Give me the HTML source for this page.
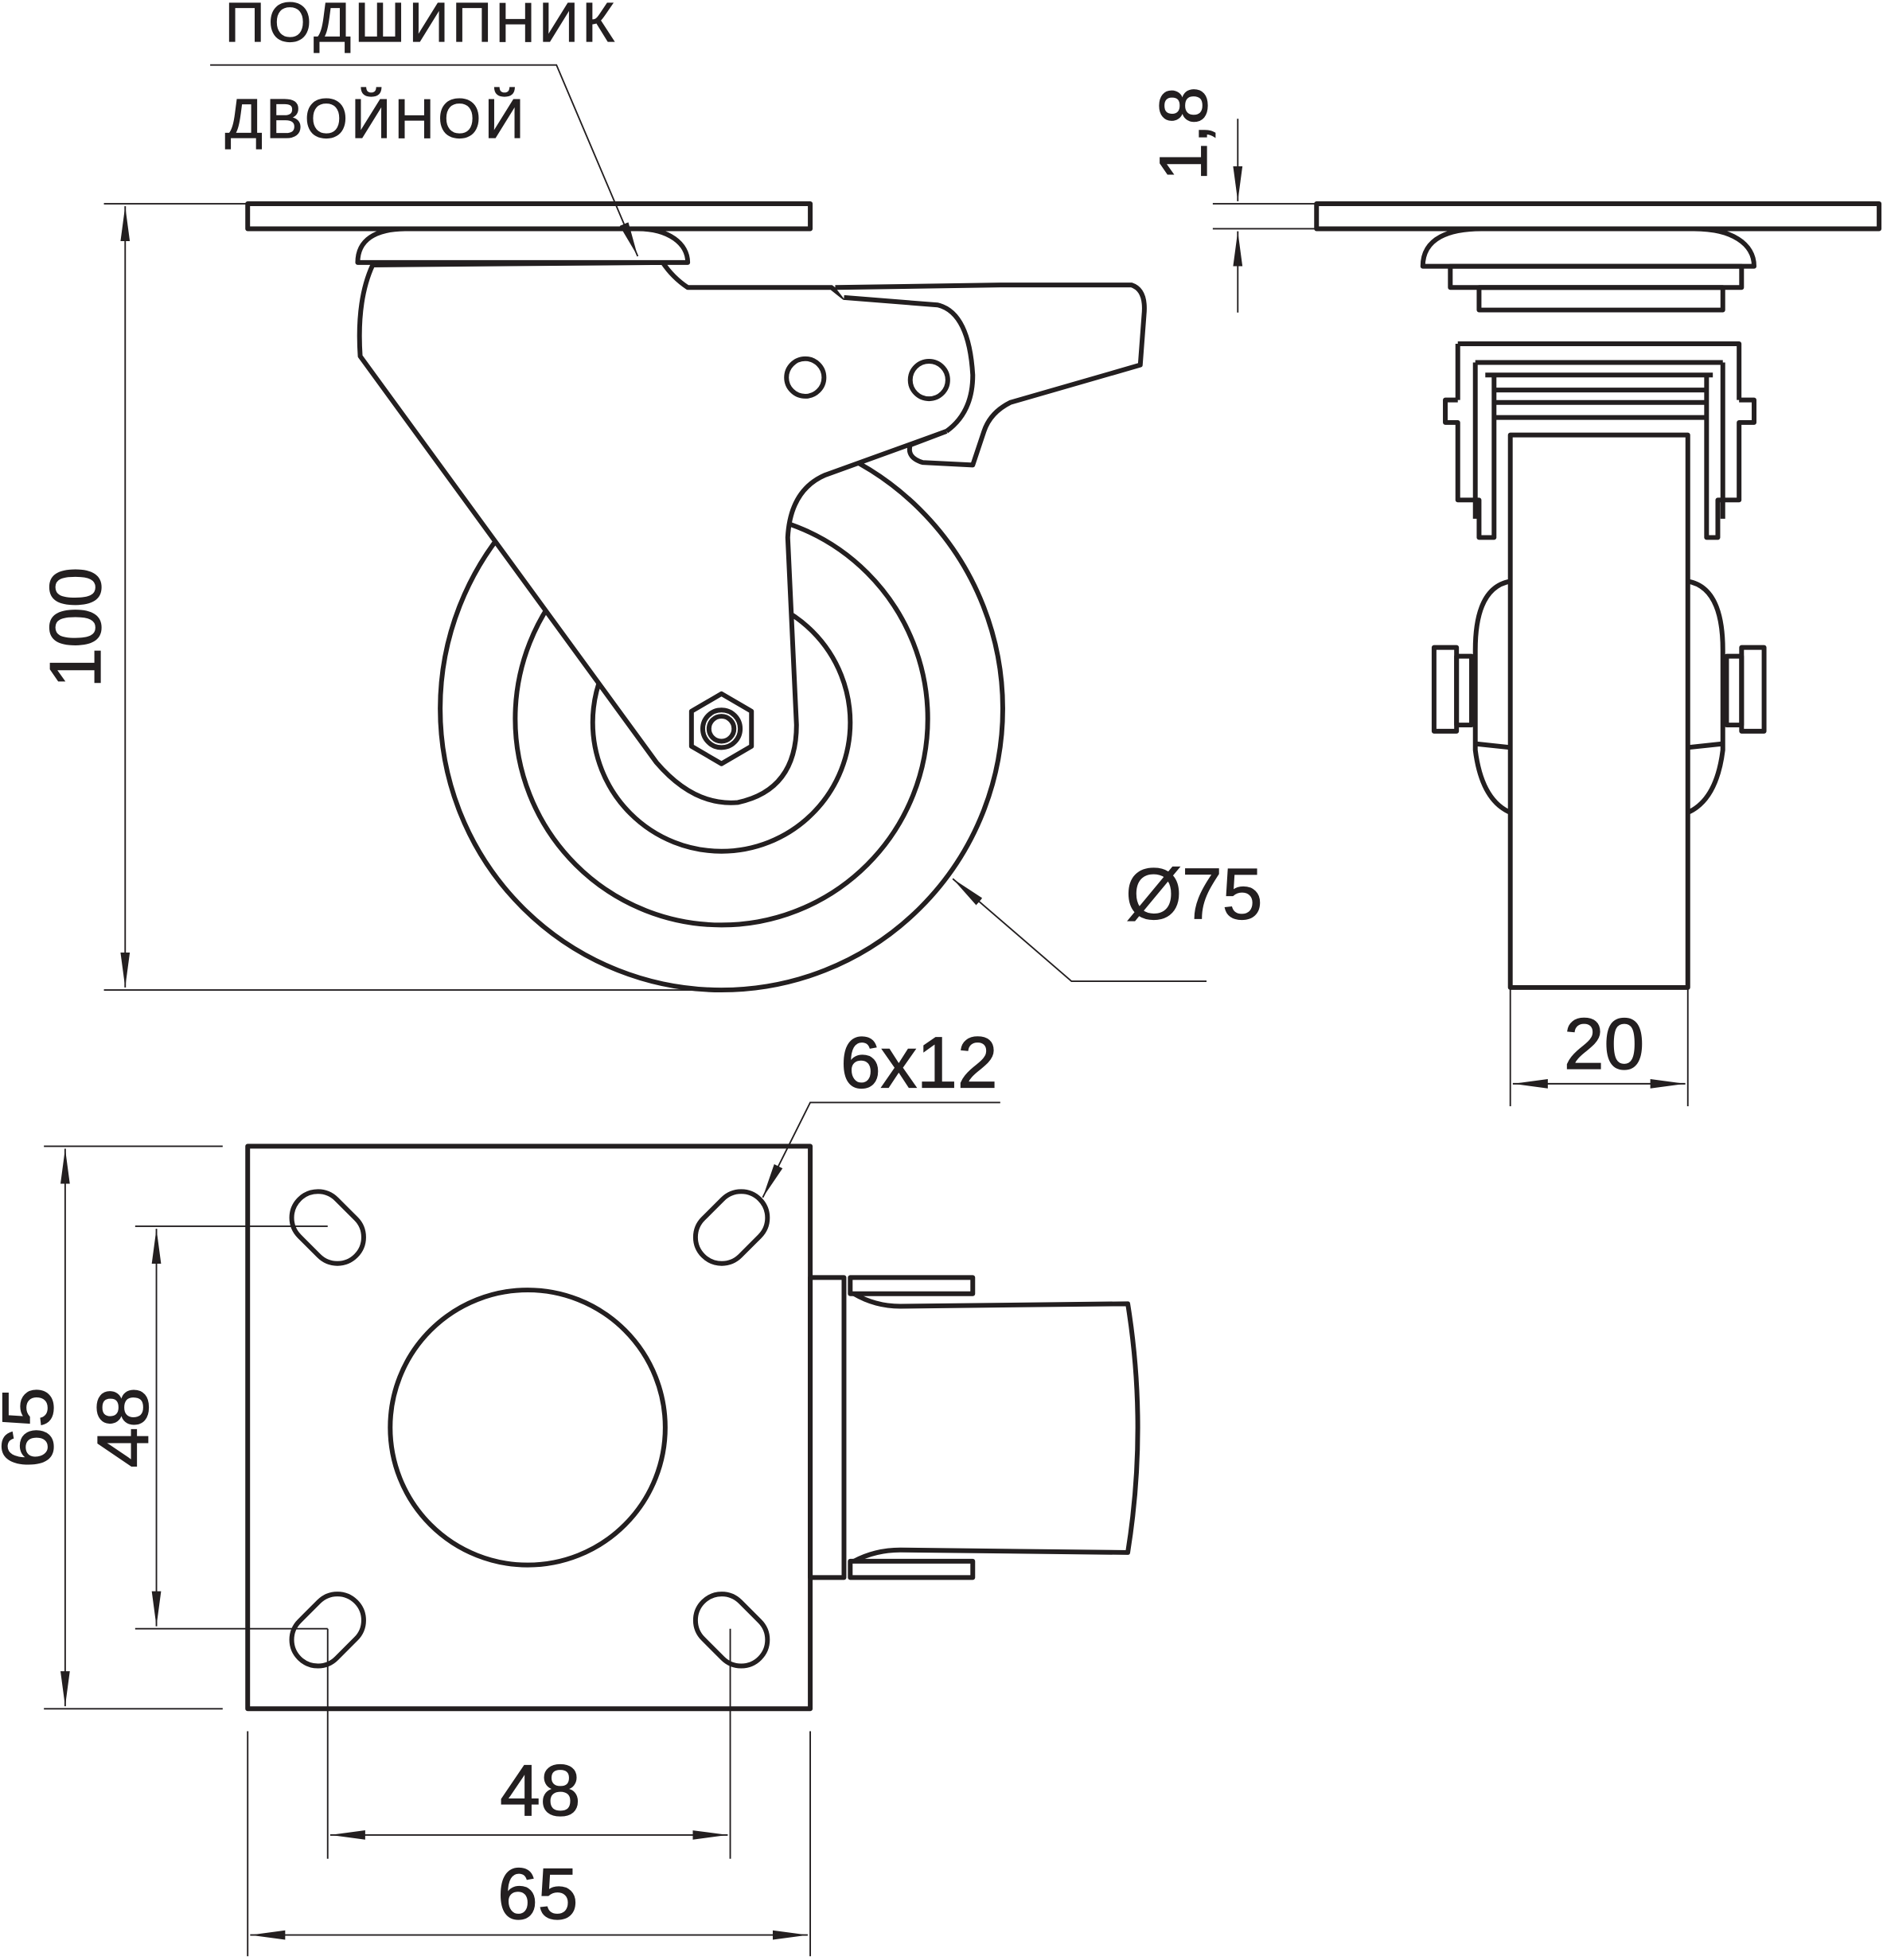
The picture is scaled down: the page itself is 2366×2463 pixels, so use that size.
<!DOCTYPE html>
<html><head><meta charset="utf-8"><style>
html,body{margin:0;padding:0;background:#fff;}
svg{display:block}
text{font-family:"Liberation Sans","DejaVu Sans",sans-serif;fill:#231f20;stroke:#231f20;stroke-width:0.8}
</style></head><body>
<svg width="2366" height="2463" viewBox="0 0 1506 1568" xmlns="http://www.w3.org/2000/svg">
<defs>
<marker id="b" viewBox="0 0 30 10" refX="30" refY="5" markerWidth="28" markerHeight="10" markerUnits="userSpaceOnUse" orient="auto-start-reverse">
<path d="M0,1 L30,5 L0,9 Z" fill="#231f20"/></marker>
</defs>
<g fill="none" stroke="#231f20" stroke-width="3.8" stroke-linejoin="round">
<!-- SIDE VIEW -->
<rect x="198" y="163" width="450" height="20" fill="#fff"/>
<circle cx="577" cy="567" r="225"/>
<circle cx="577" cy="575" r="165"/>
<circle cx="577" cy="578" r="103"/>
<path d="M298,212 Q285,240 288,285 L525,610 Q555,645 590,642 Q637,632 637,580 L630,430 Q632,392 660,380 L757,345 Q778,330 778,300 Q775,250 750,244 L675,238 L665,230 L550,230 Q538,222 530,210 Z" fill="#fff"/>
<path d="M286,210 C286,192 300,183 325,183 L510,183 C535,183 550,195 550,210 Z" fill="#fff"/>
<path d="M668,230 L800,228 L905,228 Q917,232 915,252 L912,292 L808,322 Q792,330 787,345 L778,372 L738,370 Q725,366 728,356 L757,345" fill="#fff"/>
<path d="M675,238 L750,244 Q775,250 778,300 Q778,330 757,345"/>
<circle cx="644" cy="302" r="15"/>
<circle cx="743" cy="304" r="15"/>
<polygon points="577,555 601,569 601,597 577,611 553,597 553,569" fill="#fff"/>
<circle cx="577" cy="583" r="15"/>
<circle cx="577" cy="583" r="10"/>
<!-- RIGHT VIEW -->
<rect x="1053" y="163" width="450" height="20" fill="#fff"/>
<path d="M1138,213 C1138,190 1160,183 1185,183 L1355,183 C1385,183 1403,195 1403,213 Z"/>
<rect x="1160" y="213" width="233" height="17"/>
<rect x="1183" y="230" width="195" height="18"/>
<path d="M1166,275 L1391,275 L1391,320 M1166,275 L1166,320"/>
<path d="M1180,290 L1378,290 M1188,300 L1370,300 M1195,312 L1365,312 M1195,322 L1365,322 M1195,334 L1365,334"/>
<path d="M1166,320 L1156,320 L1156,338 L1166,338 L1166,400 L1183,400 L1183,430 L1195,430 L1195,300"/>
<path d="M1391,320 L1403,320 L1403,338 L1391,338 L1391,400 L1374,400 L1374,430 L1365,430 L1365,300"/>
<path d="M1180,290 L1180,415 M1378,290 L1378,415"/>
<path d="M1208,465 Q1180,470 1180,520 L1180,600 Q1185,640 1208,650"/>
<path d="M1350,465 Q1378,470 1378,520 L1378,600 Q1373,640 1350,650"/>
<rect x="1147" y="518" width="18" height="67"/>
<rect x="1165" y="525" width="12" height="55"/>
<rect x="1393" y="518" width="18" height="67"/>
<rect x="1381" y="525" width="12" height="55"/>
<path d="M1180,595 L1208,598 M1378,595 L1350,598"/>
<rect x="1208" y="348" width="142" height="442" fill="#fff"/>
<!-- BOTTOM VIEW -->
<rect x="198" y="917" width="450" height="450"/>
<circle cx="422" cy="1142" r="110"/>
<rect x="230" y="961" width="64" height="42" rx="21" transform="rotate(45 262 982)"/>
<rect x="553" y="961" width="64" height="42" rx="21" transform="rotate(-45 585 982)"/>
<rect x="230" y="1283" width="64" height="42" rx="21" transform="rotate(-45 262 1304)"/>
<rect x="553" y="1283" width="64" height="42" rx="21" transform="rotate(45 585 1304)"/>
<rect x="648" y="1022" width="27" height="240"/>
<rect x="680" y="1022" width="98" height="13"/>
<rect x="680" y="1249" width="98" height="13"/>
<path d="M683,1035 Q700,1045 720,1045 L902,1043 Q918,1142 902,1242 L720,1240 Q700,1240 683,1249"/>
</g>
<g fill="none" stroke="#231f20" stroke-width="1.2">
<path d="M83,163 L198,163 M83,792 L577,792"/>
<path d="M100,165 L100,790" marker-start="url(#b)" marker-end="url(#b)"/>
<path d="M168,52 L445,52 L510,205" marker-end="url(#b)"/>
<path d="M965,785 L857,785 L762,703" marker-end="url(#b)"/>
<path d="M970,163 L1053,163 M970,183 L1053,183"/>
<path d="M990,95 L990,161" marker-end="url(#b)"/>
<path d="M990,250 L990,185" marker-end="url(#b)"/>
<path d="M1208,790 L1208,885 M1350,790 L1350,885"/>
<path d="M1210,867 L1348,867" marker-start="url(#b)" marker-end="url(#b)"/>
<path d="M35,917 L178,917 M35,1367 L178,1367"/>
<path d="M52,919 L52,1365" marker-start="url(#b)" marker-end="url(#b)"/>
<path d="M108,981 L262,981 M108,1303 L262,1303"/>
<path d="M125,983 L125,1301" marker-start="url(#b)" marker-end="url(#b)"/>
<path d="M262,1303 L262,1487 M584,1303 L584,1487"/>
<path d="M264,1468 L582,1468" marker-start="url(#b)" marker-end="url(#b)"/>
<path d="M198,1385 L198,1565 M648,1385 L648,1565"/>
<path d="M200,1548 L646,1548" marker-start="url(#b)" marker-end="url(#b)"/>
<path d="M800,882 L648,882 L610,958" marker-end="url(#b)"/>
</g>
<text x="180" y="33" font-size="44" letter-spacing="3">ПОДШИПНИК</text>
<text x="180" y="110" font-size="44" letter-spacing="3">ДВОЙНОЙ</text>
<text transform="translate(80,502) rotate(-90)" font-size="58" text-anchor="middle">100</text>
<text x="955" y="735" font-size="58" text-anchor="middle">Ø75</text>
<text transform="translate(965,107) rotate(-90)" font-size="54" text-anchor="middle">1,8</text>
<text x="1283" y="855" font-size="58" text-anchor="middle">20</text>
<text x="735" y="870" font-size="58" text-anchor="middle">6x12</text>
<text transform="translate(42,1142) rotate(-90)" font-size="58" text-anchor="middle">65</text>
<text transform="translate(118,1142) rotate(-90)" font-size="58" text-anchor="middle">48</text>
<text x="432" y="1452" font-size="58" text-anchor="middle">48</text>
<text x="430" y="1535" font-size="58" text-anchor="middle">65</text>
</svg>
</body></html>
